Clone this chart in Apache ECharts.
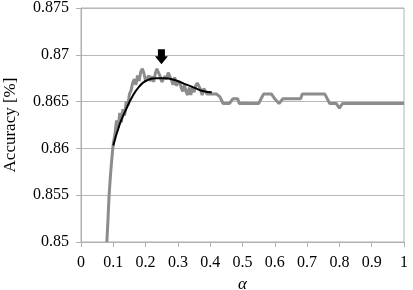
<!DOCTYPE html>
<html>
<head>
    <meta charset="utf-8">
    <title>Accuracy vs alpha</title>
    <script src="https://cdn.jsdelivr.net/npm/echarts@6/dist/echarts.min.js"></script>
    <style>
        html, body { margin: 0; padding: 0; background: #fff; }
        #main { width: 413px; height: 290px; }
    </style>
</head>
<body>
    <div id="main"></div>
    <script>
        // measured accuracy (gray line), alpha / accuracy
        var alphaRaw = [0.08, 0.083, 0.087, 0.092, 0.097, 0.10, 0.105, 0.11, 0.115, 0.12, 0.125, 0.13, 0.135, 0.14, 0.145,
            0.15, 0.155, 0.16, 0.165, 0.17, 0.175, 0.18, 0.185, 0.19, 0.195, 0.20, 0.205, 0.21, 0.215, 0.22, 0.225,
            0.23, 0.235, 0.24, 0.245, 0.25, 0.255, 0.26, 0.265, 0.27, 0.275, 0.28, 0.285, 0.29, 0.295, 0.30, 0.305,
            0.31, 0.315, 0.32, 0.325, 0.33, 0.335, 0.34, 0.345, 0.35, 0.355, 0.36, 0.365, 0.37, 0.375, 0.38, 0.385,
            0.39, 0.40, 0.41, 0.42, 0.43, 0.44, 0.46, 0.47, 0.485, 0.49, 0.55, 0.565, 0.59, 0.60, 0.613, 0.625,
            0.68, 0.685, 0.755, 0.77, 0.79, 0.80, 0.81, 1.0];
        var accRaw = [0.8500, 0.8520, 0.8550, 0.8575, 0.8595, 0.8605, 0.8615, 0.8630, 0.8622, 0.8638, 0.8628, 0.8642, 0.8635, 0.8650, 0.8646,
            0.8658, 0.8662, 0.8670, 0.8674, 0.8668, 0.8678, 0.8672, 0.8682, 0.8685, 0.8680, 0.8672, 0.8670, 0.8678, 0.8672, 0.8677, 0.8671,
            0.8680, 0.8685, 0.8685, 0.8677, 0.8671, 0.8669, 0.8677, 0.8674, 0.8681, 0.8681, 0.8673, 0.8668, 0.8676, 0.8667, 0.8665, 0.8672,
            0.8665, 0.8661, 0.8668, 0.8661, 0.8657, 0.8665, 0.8657, 0.8665, 0.8660, 0.8667, 0.8670, 0.8670, 0.8663, 0.8657, 0.8664, 0.8662,
            0.8658, 0.8658, 0.8658, 0.8658, 0.8655, 0.8648, 0.8648, 0.8653, 0.8653, 0.8648, 0.8648, 0.8658, 0.8658, 0.8653, 0.8648, 0.8653,
            0.8653, 0.8658, 0.8658, 0.8648, 0.8648, 0.8643, 0.8648, 0.8648];

        // fitted curve (black)
        var alphaFit = [0.10, 0.12, 0.14, 0.16, 0.18, 0.20, 0.23, 0.26, 0.29, 0.32, 0.35, 0.38, 0.405];
        var accFit = [0.8603, 0.8626, 0.8642, 0.8656, 0.8666, 0.8672, 0.8675, 0.8675, 0.8673, 0.8669, 0.8665, 0.8661, 0.8660];

        // arrow marking the best alpha
        var arrowAt = [0.249, 0.8698];

        var rawData = alphaRaw.map(function (a, i) { return [a, accRaw[i]]; });
        var fitData = alphaFit.map(function (a, i) { return [a, accFit[i]]; });

        var font = '"Liberation Serif", "Times New Roman", serif';
        var myChart = echarts.init(document.getElementById('main'));
        var option = {
            animation: false,
            grid: {
                left: 81, right: 9, top: 8, bottom: 48,
                outerBoundsMode: 'none',
                containLabel: false,
                show: true, borderColor: '#b0b0b0', borderWidth: 1
            },
            xAxis: {
                type: 'value',
                min: 0, max: 1, interval: 0.1,
                name: 'α',
                nameLocation: 'middle',
                nameGap: 31,
                nameTextStyle: { fontFamily: font, fontStyle: 'italic', fontSize: 17, color: '#000' },
                axisLine: { lineStyle: { color: '#b0b0b0' } },
                axisTick: { show: true, length: 5, lineStyle: { color: '#b0b0b0' } },
                axisLabel: { margin: 13, fontFamily: font, fontSize: 16, color: '#000' },
                splitLine: { show: false }
            },
            yAxis: {
                type: 'value',
                min: 0.85, max: 0.875, interval: 0.005,
                name: 'Accuracy [%]',
                nameLocation: 'middle',
                nameGap: 62,
                nameTextStyle: { fontFamily: font, fontSize: 17, color: '#000' },
                axisLine: { show: true, lineStyle: { color: '#b0b0b0' } },
                axisTick: { show: true, length: 5, lineStyle: { color: '#b0b0b0' } },
                axisLabel: { margin: 12, fontFamily: font, fontSize: 16, color: '#000' },
                splitLine: { show: true, lineStyle: { color: '#b8b8b8', width: 1 } }
            },
            series: [{
                type: 'line',
                data: rawData,
                showSymbol: false,
                lineStyle: { color: '#8c8c8c', width: 3 },
                z: 2,
                markPoint: {
                    silent: true,
                    symbol: 'path://M3,0 H10 V7 H13 L6.5,15 L0,7 H3 Z',
                    symbolSize: [13, 15],
                    itemStyle: { color: '#000' },
                    label: { show: false },
                    data: [{ coord: arrowAt }]
                }
            }, {
                type: 'line',
                data: fitData,
                smooth: true,
                showSymbol: false,
                lineStyle: { color: '#000', width: 2 },
                z: 3
            }]
        };
        myChart.setOption(option);
    </script>
</body>
</html>
